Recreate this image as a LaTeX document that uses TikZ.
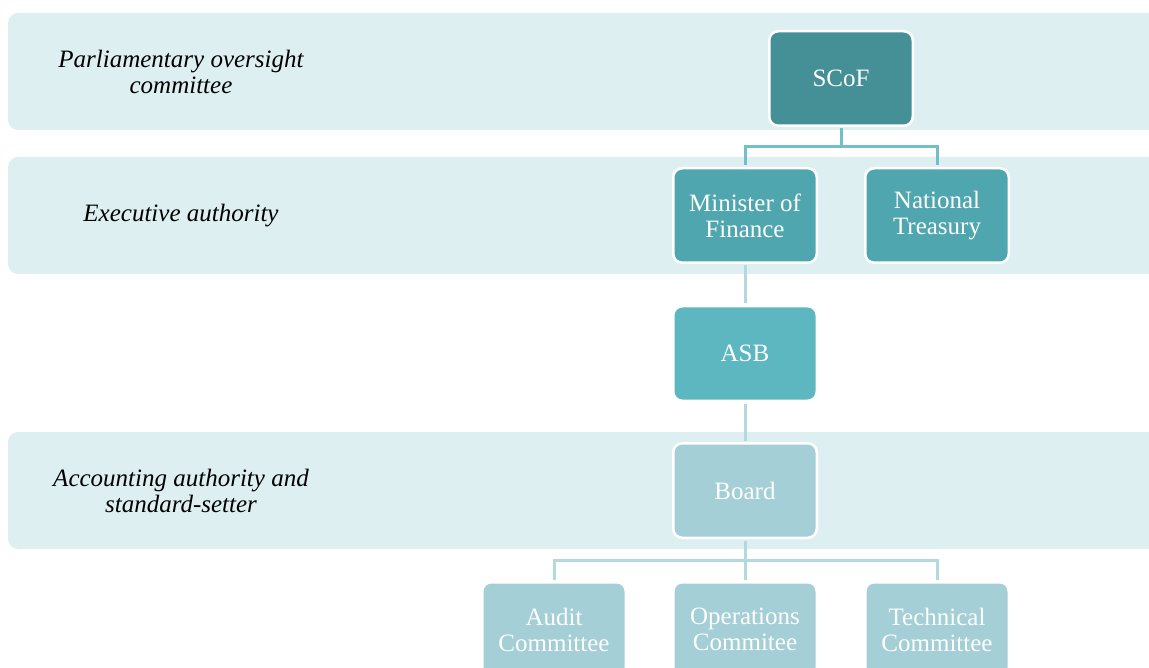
\documentclass[tikz,border=0pt]{standalone}
\usepackage{fontspec}
\setmainfont{Liberation Serif}
\usetikzlibrary{positioning,calc}
\definecolor{bandblue}{HTML}{DEEFF2}
\definecolor{scofteal}{HTML}{458F97}
\definecolor{execteal}{HTML}{50A6AF}
\definecolor{asbteal}{HTML}{5DB7C0}
\definecolor{boardteal}{HTML}{A5CFD6}
\definecolor{linkteal}{HTML}{73BFC7}
\definecolor{linklight}{HTML}{B3D9DE}

\begin{document}
\begin{tikzpicture}[x=1pt, y=-1pt,
    every node/.style={font=\fontsize{25}{26}\selectfont},
    band/.style={fill=bandblue, rounded corners=10pt},
    unit/.style={draw=white, line width=2.5pt, rounded corners=9pt, minimum width=143.5pt,
        minimum height=94.5pt, inner sep=0pt, align=center, text=white!96!bandblue},
    tier/.style={font=\fontsize{25}{26}\selectfont\itshape, align=center},
    link/.style={line width=3pt, shorten <=1.5pt, shorten >=1.5pt}]
    \useasboundingbox (0,0) rectangle (1149,668);
    \clip (0,0) rectangle (1149,668);

    % Tier bands (open to the right)
    \fill[band] (8,13) rectangle (1170,130);
    \fill[band] (8,157) rectangle (1170,274);
    \fill[band] (8,432) rectangle (1170,549);

    % Tier names
    \node[tier] (parl) at (181,71.5) {Parliamentary oversight\\committee};
    \node[tier] (exec) at (181,215.5) {Executive authority};
    \node[tier] (acct) at (181,490.5) {Accounting authority and\\standard-setter};

    % Bodies
    \node[unit, fill=scofteal] (scof) at (841,78.5) {SCoF};
    \node[unit, fill=execteal] (mof) at (745,215.5) {Minister of\\Finance};
    \node[unit, fill=execteal] (nt) at (937,215.5) {National\\Treasury};
    \node[unit, fill=asbteal] (asb) at (745,353.5) {ASB};
    \node[unit, fill=boardteal] (board) at (745,490.5) {Board};
    \node[unit, fill=boardteal] (audit) at (554,629.5) {Audit\\Committee};
    \node[unit, fill=boardteal] (ops) at (745,629.5) {Operations\\Commitee};
    \node[unit, fill=boardteal] (tech) at (937,629.5) {Technical\\Committee};

    % Reporting lines
    \coordinate (scofsplit) at (841,147);
    \coordinate (boardsplit) at (745,560);
    \draw[link, linkteal] (scof.south) -- (scofsplit) -| (mof.north);
    \draw[link, linkteal] (scofsplit) -| (nt.north);
    \draw[link, linklight] (mof.south) -- (asb.north);
    \draw[link, linklight] (asb.south) -- (board.north);
    \draw[link, linklight] (board.south) -- (boardsplit) -| (audit.north);
    \draw[link, linklight] (boardsplit) -- (ops.north);
    \draw[link, linklight] (boardsplit) -| (tech.north);

\end{tikzpicture}
\end{document}
